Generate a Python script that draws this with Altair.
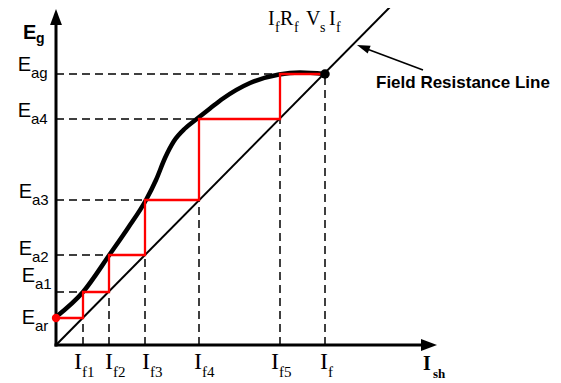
import altair as alt
import pandas as pd

# ---------------- data ----------------
E_names = ["ar", "a1", "a2", "a3", "a4", "ag"]
E_values = [27, 53, 90, 145, 226, 271]          # generated voltage levels
If_names = ["f1", "f2", "f3", "f4", "f5", "f"]
If_values = [27, 53, 89, 143, 224, 269]         # field current steps

# magnetisation (open-circuit) curve
curve_x = [0, 27, 54, 72, 90, 100, 109, 118, 129, 141, 154, 167, 194, 223, 244, 269]
curve_y = [28, 53, 91, 117, 145, 165, 187, 204, 216.5, 226.2, 236.5, 246.5, 262, 270.5, 272.5, 271]

# field resistance line
field_x = [0, 337]
field_y = [0, 341]

top_main = ["I", "R", "V", "I"]
top_sub = ["f", "f", "s", "f"]

# ---------------- layout ----------------
W, H = 545, 372
X_DOM = [-48, W - 48]
Y_DOM = [337 - H, 337]
E_label_x = [-21, -21, -24, -24, -25, -25]
E_label_dy = [-6, 10, 0, 2, 2, 3]
I_label_dx = [-1, 4, 5, 3, -1, 3]
top_main_x = [212, 224, 250, 273]
top_sub_x = [219, 238, 264, 280]

xs = alt.Scale(domain=X_DOM, nice=False, zero=False)
ys = alt.Scale(domain=Y_DOM, nice=False, zero=False)


def X(f="x"):
    return alt.X(f"{f}:Q", scale=xs, axis=None)


def Y(f="y"):
    return alt.Y(f"{f}:Q", scale=ys, axis=None)


# dashed guide lines
hdash = pd.DataFrame({"x": [0] * 5, "x2": If_values[:5], "y": E_values[1:], "y2": E_values[1:]})
vdash = pd.DataFrame({"x": If_values, "x2": If_values, "y": [0] * 6, "y2": E_values})
dash_df = pd.concat([hdash, vdash], ignore_index=True)
dashes = alt.Chart(dash_df).mark_rule(color="black", strokeWidth=1.5, strokeDash=[8, 5]).encode(
    x=X(), x2="x2:Q", y=Y(), y2="y2:Q")

field_df = pd.DataFrame({"x": field_x, "y": field_y})
field = alt.Chart(field_df).mark_line(color="black", strokeWidth=2).encode(x=X(), y=Y())

axes_df = pd.DataFrame({"x": [0, 0], "x2": [0, 366], "y": [0, 0], "y2": [321, 0]})
axes = alt.Chart(axes_df).mark_rule(color="black", strokeWidth=3, strokeCap="square").encode(
    x=X(), x2="x2:Q", y=Y(), y2="y2:Q")

yhead = alt.Chart(pd.DataFrame({"x": [0], "y": [320]})).mark_point(
    shape="M-0.37,0L0.37,0L0,-1Z", size=1024, filled=True, color="black", opacity=1, strokeWidth=0
).encode(x=X(), y=Y())
xhead = alt.Chart(pd.DataFrame({"x": [365], "y": [0]})).mark_point(
    shape="M0,-0.37L0,0.37L1,0Z", size=1024, filled=True, color="black", opacity=1, strokeWidth=0
).encode(x=X(), y=Y())

curve_df = pd.DataFrame({"x": curve_x, "y": curve_y})
curve = alt.Chart(curve_df).mark_line(color="black", strokeWidth=4.5, interpolate="monotone").encode(
    x=X(), y=Y())

# staircase build-up
sx, sy = [0], [E_values[0]]
for k in range(1, 6):
    sx += [If_values[k - 1], If_values[k - 1]]
    sy += [E_values[k - 1], E_values[k]]
sx.append(If_values[5])
sy.append(E_values[5])
stair_df = pd.DataFrame({"x": sx, "y": sy, "i": list(range(len(sx)))})
stair = alt.Chart(stair_df).mark_line(color="#ff0000", strokeWidth=2.3).encode(
    x=X(), y=Y(), order="i:Q")

red_dot = alt.Chart(pd.DataFrame({"x": [0], "y": [E_values[0]]})).mark_circle(
    color="#ff0000", size=70, opacity=1).encode(x=X(), y=Y())
black_dot = alt.Chart(pd.DataFrame({"x": [If_values[5]], "y": [E_values[5]]})).mark_circle(
    color="black", size=90, opacity=1).encode(x=X(), y=Y())

# annotation arrow for the field resistance line
arr_line = alt.Chart(pd.DataFrame({"x": [367], "x2": [307], "y": [275], "y2": [297.5]})).mark_rule(
    color="black", strokeWidth=1.6).encode(x=X(), x2="x2:Q", y=Y(), y2="y2:Q")
arr_head = alt.Chart(pd.DataFrame({"x": [301], "y": [300]})).mark_point(
    shape="M0,0L-1,-0.32L-1,0.32Z", size=676, angle=200.7, filled=True, color="black",
    opacity=1, strokeWidth=0).encode(x=X(), y=Y())

# texts
SANS = "Liberation Sans, Arial, sans-serif"
SERIF = "Liberation Serif, Times New Roman, serif"

eml = pd.DataFrame({"x": E_label_x, "y": [e + d for e, d in zip(E_values, E_label_dy)], "t": ["E"] * 6})
esl = pd.DataFrame({"x": E_label_x, "y": [e + d - 7 for e, d in zip(E_values, E_label_dy)], "t": E_names})
e_main = alt.Chart(eml).mark_text(align="right", baseline="alphabetic", font=SANS, fontSize=20).encode(
    x=X(), y=Y(), text="t:N")
e_sub = alt.Chart(esl).mark_text(align="left", baseline="alphabetic", font=SANS, fontSize=15).encode(
    x=X(), y=Y(), text="t:N")

iml = pd.DataFrame({"x": [v + d for v, d in zip(If_values, I_label_dx)], "y": [-24] * 6, "t": ["I"] * 6})
isl = pd.DataFrame({"x": [v + d for v, d in zip(If_values, I_label_dx)], "y": [-32] * 6, "t": If_names})
i_main = alt.Chart(iml).mark_text(align="right", baseline="alphabetic", font=SERIF, fontSize=24).encode(
    x=X(), y=Y(), text="t:N")
i_sub = alt.Chart(isl).mark_text(align="left", baseline="alphabetic", font=SERIF, fontSize=15).encode(
    x=X(), y=Y(), text="t:N")

tm = alt.Chart(pd.DataFrame({"x": top_main_x, "y": [320] * 4, "t": top_main})).mark_text(
    align="left", baseline="alphabetic", font=SERIF, fontSize=20).encode(x=X(), y=Y(), text="t:N")
ts = alt.Chart(pd.DataFrame({"x": top_sub_x, "y": [313] * 4, "t": top_sub})).mark_text(
    align="left", baseline="alphabetic", font=SERIF, fontSize=14).encode(x=X(), y=Y(), text="t:N")

eg_m = alt.Chart(pd.DataFrame({"x": [-33], "y": [306], "t": ["E"]})).mark_text(
    align="left", baseline="alphabetic", font=SANS, fontSize=20, fontWeight="bold").encode(
    x=X(), y=Y(), text="t:N")
eg_s = alt.Chart(pd.DataFrame({"x": [-20], "y": [302], "t": ["g"]})).mark_text(
    align="left", baseline="alphabetic", font=SANS, fontSize=14, fontWeight="bold").encode(
    x=X(), y=Y(), text="t:N")

ish_m = alt.Chart(pd.DataFrame({"x": [367], "y": [-25], "t": ["I"]})).mark_text(
    align="left", baseline="alphabetic", font=SERIF, fontSize=20, fontWeight="bold").encode(
    x=X(), y=Y(), text="t:N")
ish_s = alt.Chart(pd.DataFrame({"x": [377], "y": [-33], "t": ["sh"]})).mark_text(
    align="left", baseline="alphabetic", font=SERIF, fontSize=13, fontWeight="bold").encode(
    x=X(), y=Y(), text="t:N")

frl = alt.Chart(pd.DataFrame({"x": [320], "y": [257], "t": ["Field Resistance Line"]})).mark_text(
    align="left", baseline="alphabetic", font=SANS, fontSize=17, fontWeight="bold").encode(
    x=X(), y=Y(), text="t:N")

chart = alt.layer(
    dashes, field, axes, yhead, xhead, curve, stair, red_dot, black_dot, arr_line, arr_head,
    e_main, e_sub, i_main, i_sub, tm, ts, eg_m, eg_s, ish_m, ish_s, frl
).properties(
    width=W, height=H, padding=0, autosize=alt.AutoSizeParams(type="none"), background="white"
).configure_view(stroke=None)

chart.save("out.html", embed_options={"renderer": "svg", "actions": False})
